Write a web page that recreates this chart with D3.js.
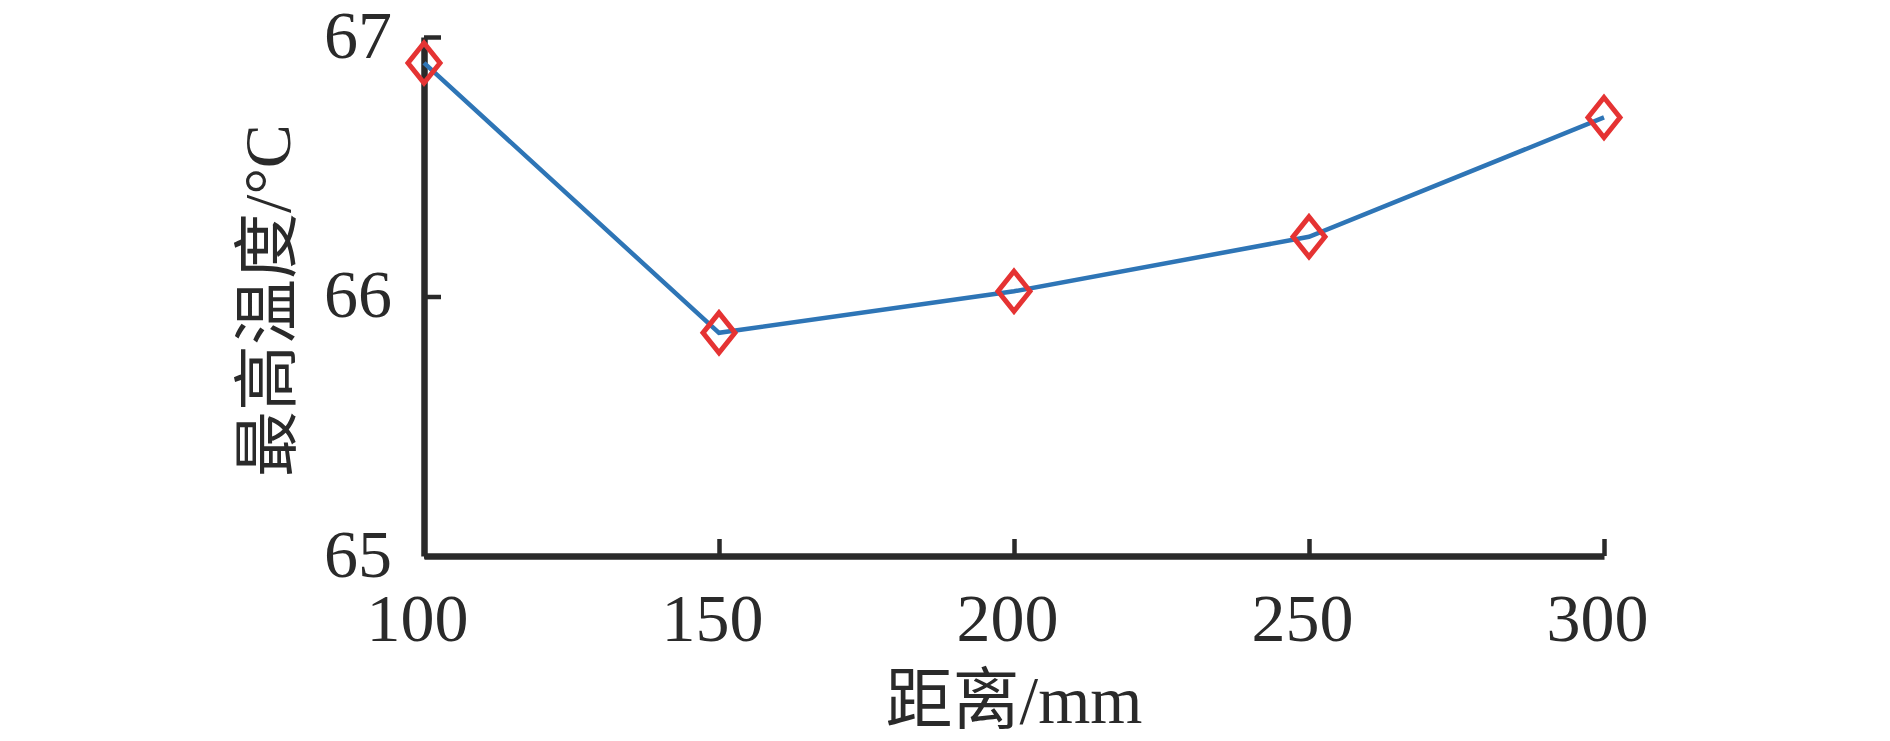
<!DOCTYPE html>
<html>
<head>
<meta charset="utf-8">
<script src="https://cdn.jsdelivr.net/npm/d3@7/dist/d3.min.js"></script>
<style>
  body { margin: 0; background: #fff; }
  .tick text { font-family: "Liberation Serif", "Times New Roman", serif; fill: #2a2a2a; }
</style>
</head>
<body>
<script>
var distance = [100, 150, 200, 250, 300];
var maxTemp = [66.90, 65.86, 66.02, 66.23, 66.69];
var yTicks = [65, 66, 67];
var xLabel = "距离/mm";
var yLabel = "最高温度/°C";

var margin = {top: 37, right: 286, bottom: 185, left: 424},
    width = 1890 - margin.left - margin.right,
    height = 741 - margin.top - margin.bottom;

var x = d3.scaleLinear().domain([100, 300]).range([0, width]);
var y = d3.scaleLinear().domain([65, 67]).range([height, 0]);

var svg = d3.select("body")
    .append("svg")
    .attr("width", 1890)
    .attr("height", 741)
    .append("g")
    .attr("transform", "translate(" + margin.left + "," + margin.top + ")");

// x axis, ticks point inward
var xa = svg.append("g")
    .attr("transform", "translate(0," + height + ")")
    .call(d3.axisBottom(x).tickValues(distance).tickFormat(d3.format("d"))
        .tickSizeInner(-17).tickSizeOuter(0).tickPadding(37));
xa.select(".domain").attr("stroke", "#2a2a2a").attr("stroke-width", 6.5);
xa.selectAll(".tick line").attr("stroke", "#2a2a2a").attr("stroke-width", 4.5);
xa.selectAll("text").style("font-size", "68px").attr("dy", "0.71em").attr("dx", -7);

var ya = svg.append("g")
    .call(d3.axisLeft(y).tickValues(yTicks).tickFormat(d3.format("d"))
        .tickSizeInner(-17).tickSizeOuter(0).tickPadding(32));
ya.select(".domain").attr("stroke", "#2a2a2a").attr("stroke-width", 6.5);
ya.selectAll(".tick line").attr("stroke", "#2a2a2a").attr("stroke-width", 4.5);
ya.selectAll("text").style("font-size", "68px").attr("dy", "0.3em");

var pts = distance.map(function(d, i) { return [d, maxTemp[i]]; });

svg.append("path")
    .datum(pts)
    .attr("fill", "none")
    .attr("stroke", "#2e75b6")
    .attr("stroke-width", 4.5)
    .attr("d", d3.line()
        .x(function(d) { return x(d[0]); })
        .y(function(d) { return y(d[1]); }));

svg.selectAll(".mk")
    .data(pts)
    .enter().append("path")
    .attr("class", "mk")
    .attr("transform", function(d) { return "translate(" + x(d[0]) + "," + y(d[1]) + ")"; })
    .attr("d", "M0,-20L16,0L0,20L-16,0Z")
    .attr("fill", "none")
    .attr("stroke", "#e53333")
    .attr("stroke-width", 5);

svg.append("text")
    .attr("x", width / 2)
    .attr("y", height + 167)
    .style("text-anchor", "middle")
    .style("font-family", "'Liberation Serif', 'Noto Sans CJK SC', serif")
    .style("font-size", "67px")
    .attr("fill", "#2a2a2a")
    .text(xLabel);

svg.append("text")
    .attr("transform", "translate(" + (-margin.left + 290) + "," + (height / 2 + 4) + ") rotate(-90)")
    .style("text-anchor", "middle")
    .style("font-family", "'Liberation Serif', 'Noto Sans CJK SC', serif")
    .style("font-size", "66px")
    .attr("fill", "#2a2a2a")
    .text(yLabel);
</script>
</body>
</html>
